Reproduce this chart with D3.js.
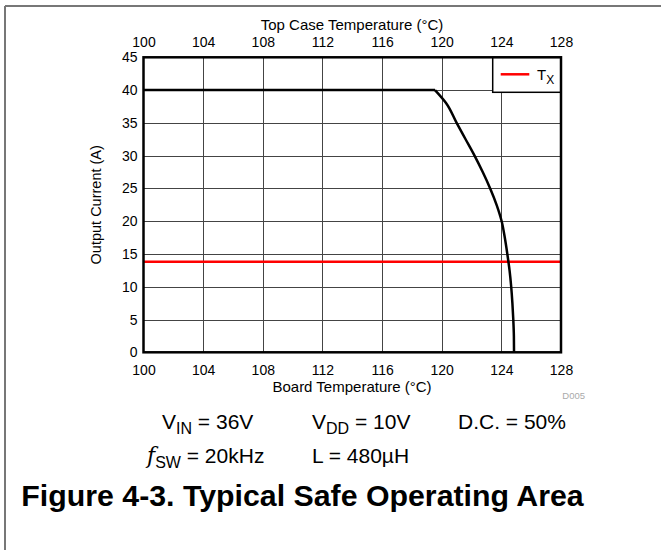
<!DOCTYPE html>
<html lang="en">
<head>
<meta charset="utf-8">
<title>Typical Safe Operating Area</title>
<script src="https://cdn.jsdelivr.net/npm/d3@7"></script>
<style>
  body { margin: 0; background: #fff; }
  svg text { font-family: "Liberation Sans", Arial, sans-serif; fill: #000; }
  .grid line { stroke: #444; stroke-width: 1; shape-rendering: crispEdges; }
  .tick-label { font-size: 14px; }
</style>
</head>
<body>
<div id="chart"></div>
<script>
  // ticks
  var xTicks = [100, 104, 108, 112, 116, 120, 124, 128];
  var yTicks = [0, 5, 10, 15, 20, 25, 30, 35, 40, 45];

  // SOA curve: board temperature (°C) vs output current (A)
  var flatTemp    = [100, 119.55];
  var flatCurrent = [40, 40];
  var dropTemp    = [119.55, 120.3, 121.0, 121.6, 122.2, 122.75, 123.25, 123.68, 124.02, 124.23, 124.4, 124.55, 124.66, 124.74, 124.8, 124.84, 124.85];
  var dropCurrent = [40,     38,    35,    32.5,  30,    27.5,   25,     22.5,   20,     17.5,   15,    12.5,   10,     7.5,    5,     2.5,    0];

  // Tx line
  var txCurrent = 13.8;

  var width = 661, height = 550;

  var svg = d3.select("#chart").append("svg")
    .attr("width", width)
    .attr("height", height);

  // outer frame
  svg.append("line").attr("x1", 5).attr("x2", width).attr("y1", 6).attr("y2", 6)
    .attr("stroke", "#777").attr("stroke-width", 2);
  svg.append("line").attr("x1", 5).attr("x2", 5).attr("y1", 6).attr("y2", height)
    .attr("stroke", "#777").attr("stroke-width", 2);

  var x = d3.scaleLinear().domain([100, 128]).range([143.5, 561]);
  var y = d3.scaleLinear().domain([0, 45]).range([352.3, 57.3]);

  var grid = svg.append("g").attr("class", "grid");
  grid.selectAll(".vx").data(xTicks.slice(1, -1)).enter().append("line")
    .attr("x1", function(d) { return Math.round(x(d)) + 0.5; })
    .attr("x2", function(d) { return Math.round(x(d)) + 0.5; })
    .attr("y1", function(d) { return d === 124 ? 92.3 : y(45); })
    .attr("y2", y(0));
  grid.selectAll(".hy").data(yTicks.slice(1, -1)).enter().append("line")
    .attr("x1", x(100))
    .attr("x2", function(d) { return d === 40 ? 492.7 : x(128); })
    .attr("y1", function(d) { return Math.round(y(d)) + 0.5; })
    .attr("y2", function(d) { return Math.round(y(d)) + 0.5; });

  // Tx line
  svg.append("line")
    .attr("x1", x(100)).attr("x2", x(128))
    .attr("y1", y(txCurrent)).attr("y2", y(txCurrent))
    .attr("stroke", "#ff0000").attr("stroke-width", 2.5);

  // SOA curve
  function pairs(xs, ys) { return xs.map(function(t, i) { return [t, ys[i]]; }); }
  var line = d3.line()
    .x(function(d) { return x(d[0]); })
    .y(function(d) { return y(d[1]); });
  svg.append("path")
    .datum(pairs(flatTemp, flatCurrent))
    .attr("d", line)
    .attr("fill", "none").attr("stroke", "#000").attr("stroke-width", 2.5);
  svg.append("path")
    .datum(pairs(dropTemp, dropCurrent))
    .attr("d", line.curve(d3.curveMonotoneY))
    .attr("fill", "none").attr("stroke", "#000").attr("stroke-width", 2.5);

  // legend
  var lg = svg.append("g");
  lg.append("rect")
    .attr("x", 492.7).attr("y", y(45))
    .attr("width", x(128) - 492.7).attr("height", 92.3 - y(45))
    .attr("fill", "#fff").attr("stroke", "#000").attr("stroke-width", 1.5);
  lg.append("line")
    .attr("x1", 500.7).attr("x2", 529.3).attr("y1", 74.3).attr("y2", 74.3)
    .attr("stroke", "#ff0000").attr("stroke-width", 2.5);
  var lt = lg.append("text").attr("x", 537).attr("y", 80).style("font-size", "15px");
  lt.append("tspan").text("T");
  lt.append("tspan").attr("dy", 4).style("font-size", "12px").text("X");

  // plot frame
  svg.append("rect")
    .attr("x", x(100)).attr("y", y(45))
    .attr("width", x(128) - x(100)).attr("height", y(0) - y(45))
    .attr("fill", "none").attr("stroke", "#000").attr("stroke-width", 2.5);

  // axes (labels only)
  var xBottom = d3.axisBottom(x).tickValues(xTicks).tickSize(0).tickPadding(13);
  var gxb = svg.append("g").attr("transform", "translate(0," + y(0) + ")").call(xBottom);
  var xTop = d3.axisTop(x).tickValues(xTicks).tickSize(0).tickPadding(10);
  var gxt = svg.append("g").attr("transform", "translate(0," + y(45) + ")").call(xTop);
  var yLeft = d3.axisLeft(y).tickValues(yTicks).tickSize(0).tickPadding(6);
  var gyl = svg.append("g").attr("transform", "translate(" + x(100) + ",0)").call(yLeft);
  [gxb, gxt, gyl].forEach(function(g) {
    g.select(".domain").remove();
    g.selectAll("text").attr("class", "tick-label")
      .style("font-family", "Liberation Sans, Arial, sans-serif").attr("fill", "#000");
  });

  // axis titles
  svg.append("text").attr("x", 352).attr("y", 30).attr("text-anchor", "middle")
    .style("font-size", "15px").text("Top Case Temperature (°C)");
  svg.append("text").attr("x", 352).attr("y", 392).attr("text-anchor", "middle")
    .style("font-size", "15px").text("Board Temperature (°C)");
  svg.append("text")
    .attr("transform", "translate(101," + ((y(0) + y(45)) / 2) + ") rotate(-90)")
    .attr("text-anchor", "middle")
    .style("font-size", "14.5px").text("Output Current (A)");
  svg.append("text").attr("x", 585).attr("y", 399).attr("text-anchor", "end")
    .style("font-size", "9.5px").style("fill", "#aaa").text("D005");

  // conditions
  function cond(xp, yp, main, sub, rest, italic) {
    var t = svg.append("text").attr("x", xp).attr("y", yp).style("font-size", "21px");
    var m = t.append("tspan").text(main);
    if (italic) m.style("font-style", "italic").style("font-family", "DejaVu Serif, serif").style("font-size", "22px");
    t.append("tspan").attr("dy", 5).style("font-size", "16px").text(sub);
    t.append("tspan").attr("dy", -5).text(rest);
  }
  cond(162, 429, "V", "IN", " = 36V");
  cond(312, 429, "V", "DD", " = 10V");
  svg.append("text").attr("x", 458).attr("y", 429).style("font-size", "21px").text("D.C. = 50%");
  cond(147, 463, "f", "SW", " = 20kHz", true);
  svg.append("text").attr("x", 312).attr("y", 463).style("font-size", "21px").text("L = 480µH");

  // figure caption
  svg.append("text").attr("x", 302.5).attr("y", 506).attr("text-anchor", "middle")
    .style("font-size", "30.3px").style("font-weight", "bold")
    .text("Figure 4-3. Typical Safe Operating Area");
</script>
</body>
</html>
